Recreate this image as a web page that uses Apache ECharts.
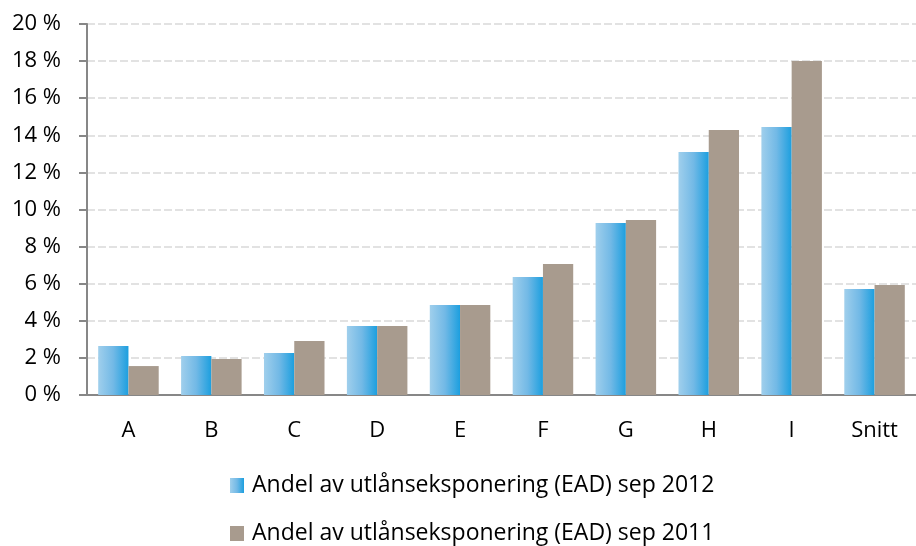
<!DOCTYPE html>
<html><head><meta charset="utf-8">
<script src="https://cdn.jsdelivr.net/npm/echarts@6/dist/echarts.min.js"></script>
<style>html,body{margin:0;padding:0;background:#fff}#c{width:916px;height:546px}</style>
</head><body><div id="c"></div>
<script>
const categories = ['A','B','C','D','E','F','G','H','I','Snitt'];
const ead2012 = [2.64, 2.10, 2.26, 3.72, 4.85, 6.36, 9.27, 13.1, 14.45, 5.71];
const ead2011 = [1.56, 1.94, 2.91, 3.72, 4.85, 7.06, 9.43, 14.29, 18.0, 5.93];
const seriesNames = ['Andel av utlånseksponering (EAD) sep 2012','Andel av utlånseksponering (EAD) sep 2011'];
const yTicks = {min:0, max:20, interval:2};

const font = 'Open Sans';
const legendText = {fontFamily:font, fontSize:23, color:'#000', padding:[0,0,0,3]};
const chart = echarts.init(document.getElementById('c'));
chart.setOption({
  animation:false,
  grid:{left:87, top:24, height:371, width:835},
  legend:[
    {left:230, top:474, padding:0, itemWidth:14, itemHeight:15, icon:'rect', textStyle:legendText, data:[seriesNames[0]], selectedMode:false},
    {left:230, top:522, padding:0, itemWidth:14, itemHeight:15, icon:'rect', textStyle:legendText, data:[seriesNames[1]], selectedMode:false}
  ],
  xAxis:{
    type:'category', data:categories,
    axisLine:{lineStyle:{color:'#878787', width:2}},
    axisTick:{length:8, lineStyle:{color:'#878787', width:2}},
    axisLabel:{fontFamily:font, fontSize:22, color:'#000', margin:25}
  },
  yAxis:{
    type:'value', min:yTicks.min, max:yTicks.max, interval:yTicks.interval,
    axisLine:{show:true, lineStyle:{color:'#878787', width:2}},
    axisTick:{show:true, length:8, lineStyle:{color:'#878787', width:2}},
    axisLabel:{fontFamily:font, fontSize:22, color:'#000', margin:26, formatter:v=>v+' %'},
    splitLine:{lineStyle:{color:'#d9d9d9', width:1.5, type:[8,3]}}
  },
  series:[
    {name:seriesNames[0], type:'bar', data:ead2012, barGap:'0%', barCategoryGap:'27%',
     itemStyle:{color:new echarts.graphic.LinearGradient(0,0,1,0,[{offset:0,color:'#a0cfec'},{offset:0.5,color:'#72b9e6'},{offset:1,color:'#1c9fdf'}])}},
    {name:seriesNames[1], type:'bar', data:ead2011, barGap:'0%', barCategoryGap:'27%',
     itemStyle:{color:'#a89b8e'}}
  ]
});
</script></body></html>
